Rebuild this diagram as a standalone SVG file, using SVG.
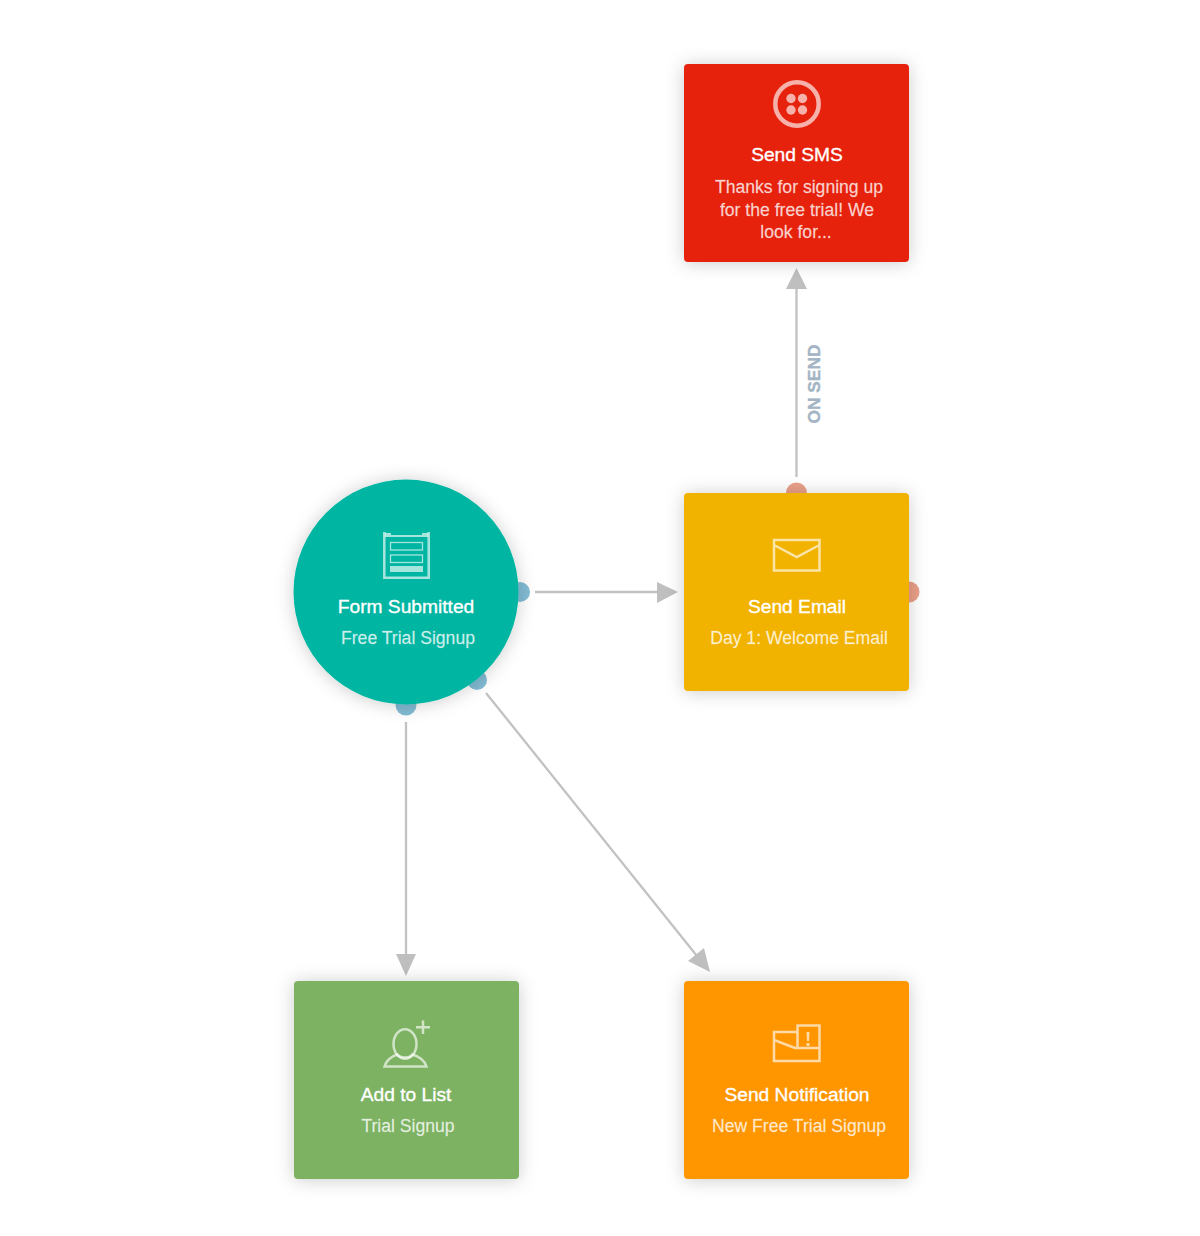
<svg xmlns="http://www.w3.org/2000/svg" width="1200" height="1236" viewBox="0 0 1200 1236">
<style>
text{font-family:"Liberation Sans",Arial,sans-serif;text-anchor:middle}
.t{font-size:19.200px;fill:#fff;stroke:#fff;stroke-width:.35}
.s{font-size:17.600px;fill:#fff;fill-opacity:.78;stroke:#fff;stroke-opacity:.45;stroke-width:.3}
.n{filter:url(#sh)}
.c{stroke:#c2c2c2;stroke-width:2.300;fill:none}
.h{fill:#bfbfbf}
.i{fill:none;stroke:#fff;stroke-opacity:.65;stroke-width:2.500}
.th{stroke-width:1.300}
.r{stroke-width:4.500}
.f{fill:#fff;fill-opacity:.65}
.pb{fill:#82bcd4}
.po{fill:#e9a088}
.l{font-size:17.300px;font-weight:700;fill:#a3b4c4;stroke:#a3b4c4;stroke-width:.4}
</style>
<defs>
<filter id="sh" x="-25%" y="-25%" width="150%" height="150%"><feDropShadow dx="0" dy="1" stdDeviation="9" flood-color="#000" flood-opacity=".2"/></filter>
</defs>
<rect width="1200" height="1236" fill="#fff"/>
<g id="connectors">
<line class="c" x1="796.500" y1="477" x2="796.500" y2="287"/>
<polygon class="h" points="796.500,268 807,289 786,289"/>
<line class="c" x1="535" y1="592" x2="660" y2="592"/>
<polygon class="h" points="678,592 657,582 657,603"/>
<line class="c" x1="406" y1="722" x2="406" y2="957"/>
<polygon class="h" points="406,976 396,954 416,954"/>
<line class="c" x1="486" y1="693" x2="697" y2="956"/>
<polygon class="h" points="710,972 688,961 704,948"/>
<text class="l" transform="translate(820,384) rotate(-90)">ON SEND</text>
</g>
<g id="form-submitted">
<circle class="pb" cx="520" cy="592" r="10"/><circle class="pb" cx="477" cy="680" r="10"/><circle class="pb" cx="406" cy="705" r="10.500"/>
<circle class="n" cx="406" cy="592" r="112.500" fill="#00b5a2"/>
<path class="i" d="M384.300 532V577.800H428.700V532"/>
<path class="f" d="M385 533H391V535H422V533H428V537H385Z"/>
<rect x="390.500" y="542.500" width="32" height="7.500" class="i th"/>
<rect x="390.500" y="555" width="32" height="7.500" class="i th"/>
<rect x="390" y="566" width="33" height="6" class="f"/>
<text class="t" x="406" y="613">Form Submitted</text>
<text class="s" x="408" y="644">Free Trial Signup</text>
</g>
<g id="send-email">
<circle class="po" cx="796.500" cy="493" r="10.500"/><circle class="po" cx="909" cy="592" r="10.500"/>
<rect class="n" x="684" y="493" width="225" height="198" rx="4" fill="#f2b200"/>
<path class="i" d="M774 540H819.500V570.500H774ZM774 545L796.800 557L819.500 545"/>
<text class="t" x="797" y="613">Send Email</text>
<text class="s" x="799" y="644">Day 1: Welcome Email</text>
</g>
<g id="send-sms">
<rect class="n" x="684" y="64" width="225" height="198" rx="4" fill="#e6220c"/>
<circle class="i r" cx="797" cy="104" r="21.700"/>
<circle class="f" cx="791" cy="98.500" r="4.700"/><circle class="f" cx="802.500" cy="98.500" r="4.700"/><circle class="f" cx="791" cy="110" r="4.700"/><circle class="f" cx="802.500" cy="110" r="4.700"/>
<text class="t" x="797" y="161">Send SMS</text>
<text class="s" x="799" y="193">Thanks for signing up</text>
<text class="s" x="797" y="216">for the free trial! We</text>
<text class="s" x="796" y="238">look for...</text>
</g>
<g id="add-to-list">
<rect class="n" x="294" y="981" width="225" height="198" rx="4" fill="#7cb262"/>
<path class="i" d="M384.500 1066.500H426.500C424.500 1060 419 1056.500 412.500 1054.500C410 1058.500 400 1058.500 397.500 1054.500C391 1056.500 386.500 1060 384.500 1066.500Z"/>
<ellipse class="i" cx="405" cy="1044" rx="11.500" ry="14.800"/>
<path class="i" d="M423 1020.500V1034M416 1027.200H430"/>
<text class="t" x="406" y="1101">Add to List</text>
<text class="s" x="408" y="1132">Trial Signup</text>
</g>
<g id="send-notification">
<rect class="n" x="684" y="981" width="225" height="198" rx="4" fill="#ff9600"/>
<path class="i" d="M797.500 1032H774V1061H819.500V1025.500H797.500V1048M774 1040L795 1048H819.500"/>
<path class="f" d="M806.500 1032H809.500L809 1041H807ZM806.500 1043H809.500V1046H806.500Z"/>
<text class="t" x="797" y="1101">Send Notification</text>
<text class="s" x="799" y="1132">New Free Trial Signup</text>
</g>
</svg>
